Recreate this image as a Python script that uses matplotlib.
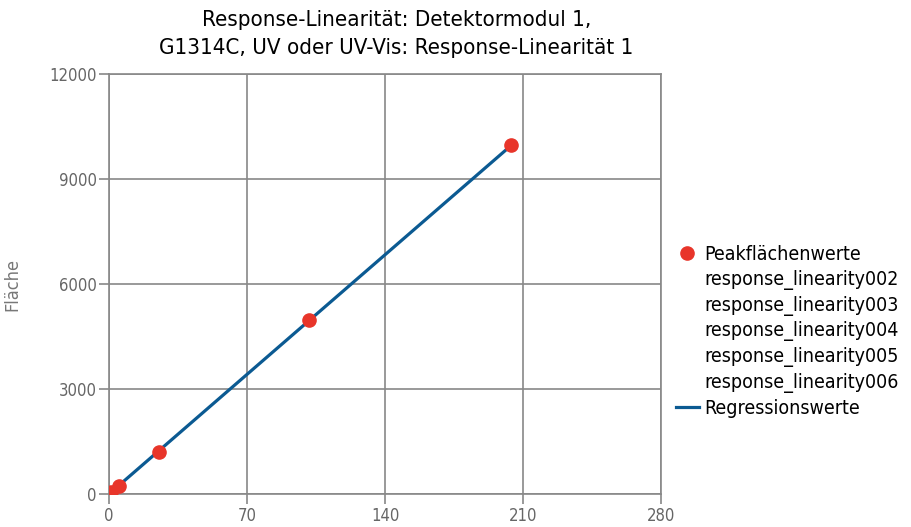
import matplotlib
matplotlib.use("Agg")
import matplotlib.pyplot as plt
from matplotlib.lines import Line2D

plt.rcParams['font.family'] = ['DejaVu Sans']
plt.rcParams['font.stretch'] = 'condensed'

# Konzentration und Peakfläche
konz = [1.0, 5.0, 25.2, 101.5, 204.0]
flaeche = [60, 220, 1210, 4980, 9960]
proben = ['response_linearity002', 'response_linearity003', 'response_linearity004',
          'response_linearity005', 'response_linearity006']

# Regressionsgerade durch die Messpunkte
reg_x = [konz[0], konz[-1]]
reg_y = [50, 9960]

x_ticks = [0, 70, 140, 210, 280]
y_ticks = [0, 3000, 6000, 9000, 12000]

rot = '#e8352a'
blau = '#0b5a92'
grau = '#888888'

fig = plt.figure(figsize=(9.11, 5.27), dpi=100)
ax = fig.add_axes([0.1197, 0.0626, 0.6059, 0.797])

ax.plot(reg_x, reg_y, color=blau, linewidth=2.3, zorder=3)
ax.plot(konz, flaeche, 'o', color=rot, markersize=9.5, zorder=4)

ax.set_xlim(0, 280)
ax.set_ylim(0, 12000)
ax.set_xticks(x_ticks)
ax.set_yticks(y_ticks)
ax.grid(True, color=grau, linewidth=1.2)
ax.set_axisbelow(True)
for s in ax.spines.values():
    s.set_color(grau)
    s.set_linewidth(1.2)
ax.tick_params(colors=grau, labelcolor='#666666', labelsize=12, length=7, width=1.2, pad=2)

ax.set_ylabel('Fläche', color='#777777', fontsize=13)
ax.yaxis.set_label_coords(-0.158, 0.5)

fig.text(0.435, 0.962, 'Response-Linearität: Detektormodul 1,', ha='center', va='center', fontsize=16)
fig.text(0.435, 0.909, 'G1314C, UV oder UV-Vis: Response-Linearität 1', ha='center', va='center', fontsize=16)

handles = [Line2D([], [], marker='o', color=rot, linestyle='none', markersize=9.5)]
handles += [Line2D([], [], linestyle='none') for _ in proben]
handles += [Line2D([], [], color=blau, linewidth=2.3)]
labels = ['Peakflächenwerte'] + proben + ['Regressionswerte']
leg = fig.legend(handles, labels, loc='upper left', bbox_to_anchor=(0.733, 0.55),
                 frameon=False, fontsize=14, handlelength=1.2, handletextpad=0.3,
                 labelspacing=0.3, borderaxespad=0)

fig.savefig('out.png', dpi=100)
